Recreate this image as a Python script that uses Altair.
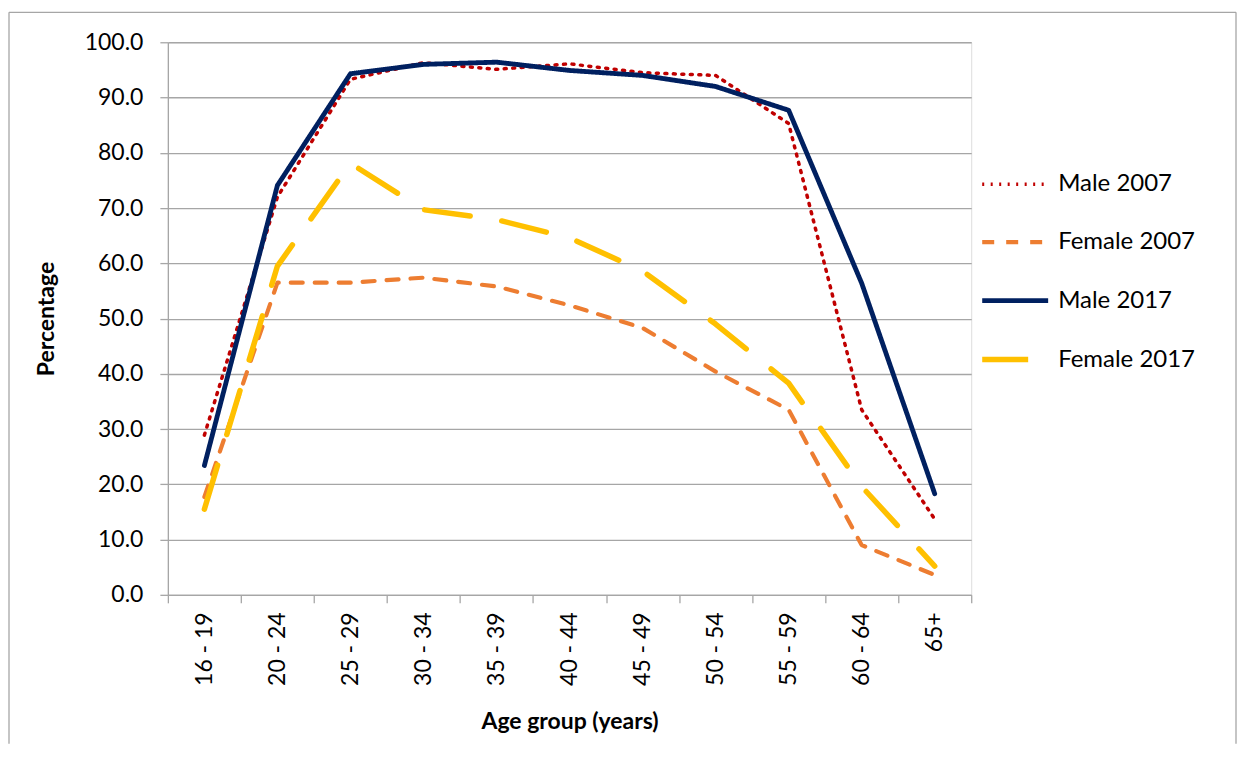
import altair as alt
import pandas as pd

ages = ["16 - 19", "20 - 24", "25 - 29", "30 - 34", "35 - 39", "40 - 44",
        "45 - 49", "50 - 54", "55 - 59", "60 - 64", "65+"]
series_names = ["Male 2007", "Female 2007", "Male 2017", "Female 2017"]
male_2007 = [28.9, 72.0, 93.3, 96.3, 95.1, 96.1, 94.5, 94.0, 85.3, 33.5, 13.7]
female_2007 = [17.7, 56.5, 56.5, 57.4, 55.8, 52.4, 48.3, 40.4, 33.5, 9.0, 3.6]
male_2017 = [23.4, 74.1, 94.3, 96.0, 96.4, 94.9, 94.0, 92.0, 87.7, 56.4, 18.3]
female_2017 = [15.5, 59.5, 78.1, 69.7, 67.9, 64.6, 58.6, 49.0, 38.3, 19.6, 5.2]

colors = ["#C00000", "#ED7D31", "#002060", "#FFC000"]
dashes = [[2, 6.5], [12, 12], [1, 0], [46, 32]]
widths = [3.5, 5.5, 5, 6.5]

rows = []
for name, vals in zip(series_names, [male_2007, female_2007, male_2017, female_2017]):
    for a, v in zip(ages, vals):
        rows.append({"series": name, "age": a, "value": v})
df = pd.DataFrame(rows)

FONT = "Lato"
GRID = "#A6A6A6"

legend = alt.Legend(
    title=None, orient="none", legendX=812, legendY=107,
    symbolType="stroke", symbolSize=4356, labelFont=FONT, labelFontSize=24,
    labelColor="#000000", labelOffset=7, rowPadding=10.5,
)

lines = alt.Chart(df).mark_line(strokeCap="round", strokeJoin="round").encode(
    x=alt.X("age:N", sort=ages, bandPosition=0.5,
            scale=alt.Scale(type="band", paddingInner=0, paddingOuter=0),
            axis=alt.Axis(title="Age group (years)", labelAngle=270, tickBand="extent",
                          grid=False, tickSize=8, labelPadding=9,
                          labelFont=FONT, labelFontSize=23, labelColor="#000000",
                          titleFont=FONT, titleFontSize=23, titleFontWeight="bold",
                          titleColor="#000000", titlePadding=25,
                          domainColor=GRID, tickColor=GRID, domainWidth=1.3, tickWidth=1.3)),
    y=alt.Y("value:Q", scale=alt.Scale(domain=[0, 100], nice=False),
            axis=alt.Axis(title="Percentage", values=list(range(0, 101, 10)), format=".1f",
                          tickSize=8, labelPadding=17, gridColor=GRID, gridWidth=1.3,
                          labelFont=FONT, labelFontSize=23, labelColor="#000000",
                          titleFont=FONT, titleFontSize=23, titleFontWeight="bold",
                          titleColor="#000000", titlePadding=26,
                          domainColor=GRID, tickColor=GRID, domainWidth=1.3, tickWidth=1.3)),
    color=alt.Color("series:N", sort=series_names,
                    scale=alt.Scale(domain=series_names, range=colors), legend=legend),
    strokeDash=alt.StrokeDash("series:N", sort=series_names,
                              scale=alt.Scale(domain=series_names, range=dashes), legend=legend),
    strokeWidth=alt.StrokeWidth("series:N", sort=series_names,
                                scale=alt.Scale(domain=series_names, range=widths), legend=legend),
)

one = pd.DataFrame({"b": [0]})
border_left = alt.Chart(one).mark_rule(stroke=GRID, strokeWidth=1.3).encode(
    x=alt.value(-159), y=alt.value(-30), y2=alt.value(702))
border_top = alt.Chart(one).mark_rule(stroke=GRID, strokeWidth=1.3).encode(
    x=alt.value(-159), x2=alt.value(1069), y=alt.value(-30))
border_right = alt.Chart(one).mark_rule(stroke=GRID, strokeWidth=1.3).encode(
    x=alt.value(1069), y=alt.value(-30), y2=alt.value(702))

chart = alt.layer(border_left, border_top, border_right, lines).properties(
    width=804, height=553,
    autosize=alt.AutoSizeParams(type="none"),
    padding={"left": 160, "top": 34, "right": 266, "bottom": 149},
).configure_view(stroke=None).configure(background="white")

chart.save("out.html", embed_options={"renderer": "svg", "actions": False})
